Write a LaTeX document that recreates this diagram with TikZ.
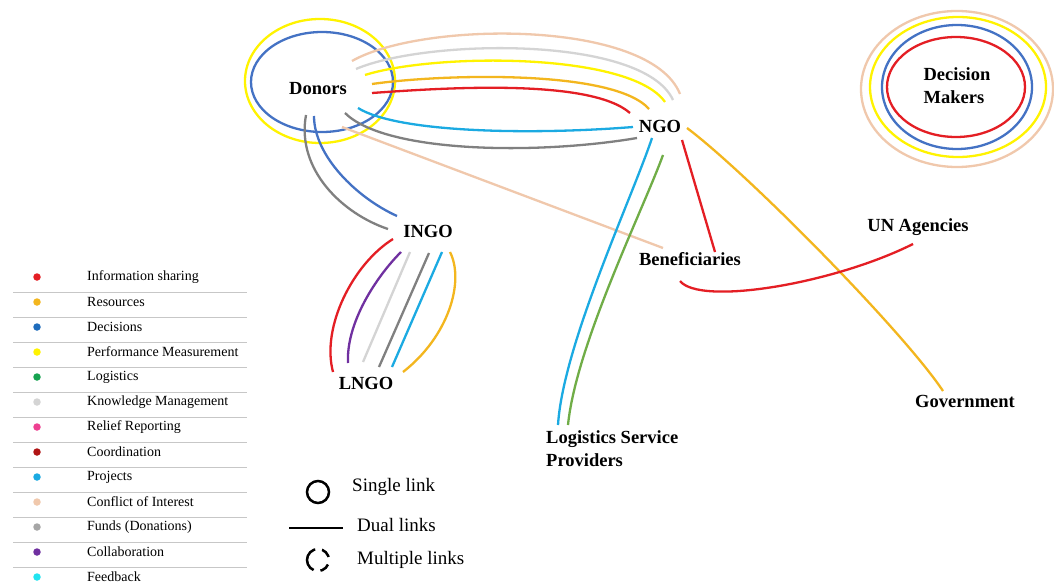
\documentclass[tikz,border=0pt]{standalone}
\usepackage{fontspec}
\setmainfont{Liberation Serif}
\usetikzlibrary{positioning}
\definecolor{infocol}{RGB}{228,30,36}
\definecolor{rescol}{RGB}{243,182,30}
\definecolor{deccol}{RGB}{68,114,196}
\definecolor{decdot}{RGB}{30,108,188}
\definecolor{perfcol}{RGB}{255,243,0}
\definecolor{logcol}{RGB}{112,173,71}
\definecolor{logdot}{RGB}{22,163,80}
\definecolor{kmcol}{RGB}{212,212,212}
\definecolor{relcol}{RGB}{238,64,145}
\definecolor{coordcol}{RGB}{176,20,20}
\definecolor{projcol}{RGB}{27,170,226}
\definecolor{cofcol}{RGB}{240,200,172}
\definecolor{fundcol}{RGB}{128,128,128}
\definecolor{collcol}{RGB}{112,48,160}
\definecolor{fbcol}{RGB}{34,228,240}

\begin{document}
\begin{tikzpicture}[x=1pt,y=1pt,
  actor/.style={font=\fontsize{18.5}{23}\selectfont\bfseries,inner sep=1pt},
  link/.style={line width=2.3pt},
  ldot/.style={circle,fill=#1,inner sep=0pt,minimum size=7.5pt},
  ltext/.style={font=\fontsize{14}{16}\selectfont,anchor=west,inner sep=0pt},
  ktext/.style={font=\fontsize{19}{22}\selectfont,anchor=west,inner sep=0pt},
  keyline/.style={line width=2.5pt,black}]
  \fill[white] (0,0) rectangle (1054,-583);
  \useasboundingbox (0,0) rectangle (1054,-583);

  % actors
  \node[actor] (dn) at (318,-89) {Donors};
  \node[actor] (ngo) at (660,-126) {NGO};
  \node[actor] (ingo) at (428,-231) {INGO};
  \node[actor] (lngo) at (366,-383) {LNGO};
  \node[actor] (ben) at (690,-259) {Beneficiaries};
  \node[actor] (un) at (918,-227) {UN Agencies};
  \node[actor] (gov) at (965,-401) {Government};
  \node[actor,align=left,anchor=north west] (lsp) at (545,-429) {Logistics Service\\Providers};
  \node[actor,align=left] (dm) at (957,-86) {Decision\\Makers};

  % single links
  \draw[link,perfcol] ([shift={(2,8)}]dn.center) ellipse (75 and 62);
  \draw[link,deccol] ([shift={(4,7)}]dn.center) ellipse (71 and 50);
  \draw[link,cofcol] ([shift={(0,-3)}]dm.center) ellipse (96 and 78);
  \draw[link,perfcol] ([shift={(1,-1)}]dm.center) ellipse (88 and 70);
  \draw[link,deccol] ([shift={(0,-1)}]dm.center) ellipse (75 and 62);
  \draw[link,infocol] ([shift={(-1,-1)}]dm.center) ellipse (69 and 50);

  % Donors - NGO
  \draw[link,cofcol] ([shift={(34,28)}]dn.center) .. controls +(70,40) and +(-30,75) .. ([shift={(20,32)}]ngo.center);
  \draw[link,kmcol] ([shift={(38,20)}]dn.center) .. controls +(70,30) and +(-30,65) .. ([shift={(13,26)}]ngo.center);
  \draw[link,perfcol] ([shift={(47,14)}]dn.center) .. controls +(70,22) and +(-35,50) .. ([shift={(5,24)}]ngo.center);
  \draw[link,rescol] ([shift={(54,5)}]dn.center) .. controls +(70,10) and +(-35,40) .. ([shift={(-11,17)}]ngo.center);
  \draw[link,infocol] ([shift={(54,-4)}]dn.center) .. controls +(70,5) and +(-40,35) .. ([shift={(-30,13)}]ngo.center);
  \draw[link,projcol] ([shift={(40,-19)}]dn.center) .. controls +(40,-25) and +(-100,-8) .. ([shift={(-27,-1)}]ngo.center);
  \draw[link,fundcol] ([shift={(27,-24)}]dn.center) .. controls +(40,-40) and +(-100,-17) .. ([shift={(-23,-12)}]ngo.center);
  \draw[link,cofcol] ([shift={(24,-38)}]dn.center) -- ([shift={(-27,11)}]ben.center);

  % Donors - INGO
  \draw[link,fundcol] ([shift={(-12,-26)}]dn.center) .. controls +(-10,-55) and +(-45,15) .. ([shift={(-40,2)}]ingo.center);
  \draw[link,deccol] ([shift={(-4,-27)}]dn.center) .. controls +(0,-40) and +(-40,18) .. ([shift={(-31,15)}]ingo.center);

  % INGO - LNGO
  \draw[link,infocol] ([shift={(-35,-8)}]ingo.center) .. controls +(-40,-25) and +(-12,45) .. ([shift={(-33,11)}]lngo.center);
  \draw[link,collcol] ([shift={(-27,-21)}]ingo.center) .. controls +(-25,-25) and +(-2,40) .. ([shift={(-18,20)}]lngo.center);
  \draw[link,kmcol] ([shift={(-18,-21)}]ingo.center) -- ([shift={(-3,21)}]lngo.center);
  \draw[link,fundcol] ([shift={(1,-22)}]ingo.center) -- ([shift={(13,16)}]lngo.center);
  \draw[link,projcol] ([shift={(14,-21)}]ingo.center) -- ([shift={(26,16)}]lngo.center);
  \draw[link,rescol] ([shift={(22,-21)}]ingo.center) .. controls +(15,-30) and +(45,35) .. ([shift={(37,11)}]lngo.center);

  % NGO - others
  \draw[link,projcol] ([shift={(-8,-12)}]ngo.center) .. controls +(-20,-60) and +(5,80) .. ([shift={(13,4)}]lsp.north west);
  \draw[link,logcol] ([shift={(3,-29)}]ngo.center) .. controls +(-20,-55) and +(8,80) .. ([shift={(23,4)}]lsp.north west);
  \draw[link,infocol] ([shift={(22,-14)}]ngo.center) -- ([shift={(25,7)}]ben.center);
  \draw[link,rescol] ([shift={(27,-2)}]ngo.center) .. controls +(60,-45) and +(-40,60) .. ([shift={(-22,10)}]gov.center);
  \draw[link,infocol] ([shift={(-10,-22)}]ben.center) .. controls +(20,-25) and +(-80,-40) .. ([shift={(-5,-17)}]un.center);

  % colour legend
  \node[ldot=infocol] (d1) at (37,-277) {};
  \node[ltext] (l1) at (87,-277) {Information sharing};
  \node[ldot=rescol] (d2) at (37,-302) {};
  \node[ltext] (l2) at (87,-302) {Resources};
  \node[ldot=decdot] (d3) at (37,-327) {};
  \node[ltext] (l3) at (87,-327) {Decisions};
  \node[ldot=perfcol] (d4) at (37,-352) {};
  \node[ltext] (l4) at (87,-352) {Performance Measurement};
  \node[ldot=logdot] (d5) at (37,-377) {};
  \node[ltext] (l5) at (87,-377) {Logistics};
  \node[ldot=kmcol] (d6) at (37,-402) {};
  \node[ltext] (l6) at (87,-402) {Knowledge Management};
  \node[ldot=relcol] (d7) at (37,-427) {};
  \node[ltext] (l7) at (87,-427) {Relief Reporting};
  \node[ldot=coordcol] (d8) at (37,-452) {};
  \node[ltext] (l8) at (87,-452) {Coordination};
  \node[ldot=projcol] (d9) at (37,-477) {};
  \node[ltext] (l9) at (87,-477) {Projects};
  \node[ldot=cofcol] (d10) at (37,-502) {};
  \node[ltext] (l10) at (87,-502) {Conflict of Interest};
  \node[ldot=fundcol!70] (d11) at (37,-527) {};
  \node[ltext] (l11) at (87,-527) {Funds (Donations)};
  \node[ldot=collcol] (d12) at (37,-552) {};
  \node[ltext] (l12) at (87,-552) {Collaboration};
  \node[ldot=fbcol] (d13) at (37,-577) {};
  \node[ltext] (l13) at (87,-577) {Feedback};
  \foreach \y in {292,317,...,567}
    \draw[black!22,line width=0.8pt] (13,-\y) -- (247,-\y);

  % link legend
  \node[circle,draw,line width=2.5pt,minimum size=22pt,inner sep=0pt] (sgl) at (318,-492) {};
  \node[ktext] (sgltxt) at (352,-487) {Single link};
  \draw[keyline] (289,-528) -- (343,-528);
  \node[ktext] (dualtxt) at (357,-525) {Dual links};
  \node[circle,draw,line width=2.5pt,minimum size=22pt,inner sep=0pt,
    dash pattern=on 0pt off 3pt on 10pt off 7pt on 27pt off 7pt on 10pt off 5pt] (mul) at (318,-560) {};
  \node[ktext] (multxt) at (357,-560) {Multiple links};
\end{tikzpicture}
\end{document}
